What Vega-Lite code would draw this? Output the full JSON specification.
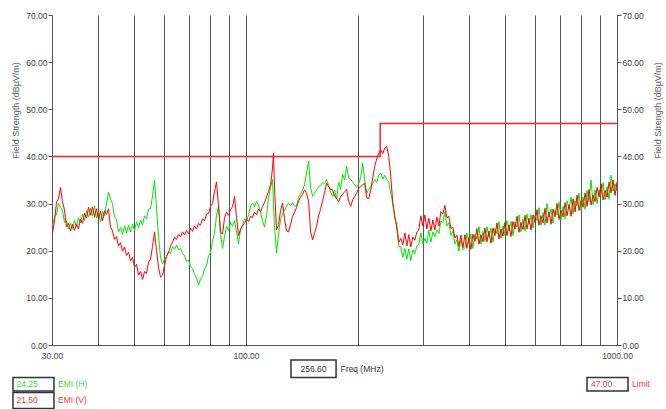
{
"$schema":"https://vega.github.io/schema/vega-lite/v6.json",
"width":565,"height":330,
"autosize":{"type":"none"},
"padding":{"left":52,"top":15,"right":49,"bottom":64},
"background":"white",
"config":{"view":{"stroke":null},"font":"Liberation Sans"},
"datasets":{
"emi":[
{"f":30.09,"h":25.2,"v":23.8},{"f":30.47,"h":27.3,"v":26.2},{"f":30.85,"h":27.6,"v":30.3},{"f":31.23,"h":30.1,"v":31.0},{"f":31.62,"h":29.2,"v":33.4},{"f":32.02,"h":28.6,"v":30.4},{"f":32.42,"h":26.0,"v":28.6},{"f":32.82,"h":26.3,"v":25.0},{"f":33.23,"h":24.6,"v":25.8},{"f":33.65,"h":25.8,"v":24.2},{"f":34.07,"h":24.7,"v":25.6},{"f":34.49,"h":26.4,"v":24.3},{"f":34.92,"h":25.1,"v":25.7},{"f":35.36,"h":27.0,"v":24.6},{"f":35.80,"h":25.9,"v":26.7},{"f":36.25,"h":27.8,"v":25.8},{"f":36.71,"h":26.4,"v":27.9},{"f":37.16,"h":28.5,"v":26.9},{"f":37.63,"h":27.1,"v":29.2},{"f":38.10,"h":29.0,"v":27.5},{"f":38.57,"h":27.4,"v":29.3},{"f":39.05,"h":29.5,"v":27.2},{"f":39.54,"h":26.9,"v":28.9},{"f":40.04,"h":28.2,"v":26.8},{"f":40.54,"h":26.2,"v":28.4},{"f":41.04,"h":28.3,"v":26.3},{"f":41.56,"h":27.4,"v":28.5},{"f":42.08,"h":30.0,"v":27.7},{"f":42.60,"h":32.4,"v":28.9},{"f":43.13,"h":31.0,"v":25.0},{"f":43.67,"h":30.0,"v":24.2},{"f":44.22,"h":27.2,"v":22.4},{"f":44.77,"h":26.6,"v":23.0},{"f":45.33,"h":24.0,"v":21.0},{"f":45.90,"h":24.9,"v":21.7},{"f":46.47,"h":23.5,"v":19.9},{"f":47.06,"h":25.3,"v":20.8},{"f":47.64,"h":23.8,"v":19.0},{"f":48.24,"h":25.4,"v":19.7},{"f":48.84,"h":24.0,"v":17.8},{"f":49.45,"h":25.6,"v":18.6},{"f":50.07,"h":24.3,"v":16.5},{"f":50.70,"h":26.1,"v":17.1},{"f":51.33,"h":24.9,"v":14.8},{"f":51.97,"h":26.5,"v":15.6},{"f":52.62,"h":25.5,"v":13.9},{"f":53.28,"h":27.4,"v":15.6},{"f":53.94,"h":26.8,"v":15.2},{"f":54.62,"h":28.8,"v":17.6},{"f":55.30,"h":29.0,"v":18.2},{"f":55.99,"h":31.6,"v":20.9},{"f":56.69,"h":35.0,"v":24.0},{"f":57.40,"h":29.0,"v":20.0},{"f":58.11,"h":23.0,"v":16.5},{"f":58.84,"h":18.5,"v":14.4},{"f":59.57,"h":17.2,"v":14.8},
{"f":60.32,"h":18.2,"v":16.9},{"f":61.07,"h":18.8,"v":18.8},{"f":61.83,"h":19.8,"v":19.6},{"f":62.60,"h":19.4,"v":21.0},{"f":63.39,"h":20.9,"v":21.8},{"f":64.18,"h":20.3,"v":22.9},{"f":64.98,"h":21.2,"v":22.4},{"f":65.79,"h":20.2,"v":23.5},{"f":66.61,"h":20.5,"v":22.9},{"f":67.44,"h":19.4,"v":24.0},{"f":68.29,"h":19.0,"v":23.3},{"f":69.14,"h":17.8,"v":24.3},{"f":70.00,"h":18.0,"v":23.6},{"f":70.88,"h":16.6,"v":24.8},{"f":71.76,"h":16.2,"v":24.1},{"f":72.66,"h":15.0,"v":25.2},{"f":73.57,"h":14.3,"v":24.6},{"f":74.49,"h":12.7,"v":25.8},{"f":75.42,"h":14.0,"v":25.4},{"f":76.36,"h":14.5,"v":26.8},{"f":77.31,"h":16.2,"v":26.3},{"f":78.28,"h":16.8,"v":27.8},{"f":79.26,"h":18.9,"v":27.9},{"f":80.25,"h":19.6,"v":29.4},{"f":81.25,"h":22.0,"v":30.0},{"f":82.27,"h":23.7,"v":32.6},{"f":83.29,"h":27.5,"v":34.6},{"f":84.33,"h":29.5,"v":29.5},{"f":85.39,"h":23.5,"v":24.0},{"f":86.45,"h":20.5,"v":23.5},{"f":87.53,"h":23.0,"v":27.0},{"f":88.63,"h":25.2,"v":28.2},{"f":89.73,"h":24.3,"v":27.5},{"f":90.85,"h":26.0,"v":28.7},{"f":91.99,"h":25.2,"v":29.3},{"f":93.14,"h":26.4,"v":31.5},{"f":94.30,"h":24.0,"v":27.0},{"f":95.48,"h":21.4,"v":23.2},{"f":96.67,"h":24.5,"v":24.6},{"f":97.88,"h":25.5,"v":25.3},{"f":99.10,"h":26.8,"v":25.8},
{"f":100.3,"h":26.2,"v":26.7},{"f":101.6,"h":27.6,"v":26.2},{"f":102.9,"h":29.5,"v":27.3},{"f":104.1,"h":30.1,"v":27.0},{"f":105.4,"h":29.3,"v":28.2},{"f":106.8,"h":30.4,"v":27.6},{"f":108.1,"h":29.7,"v":28.8},{"f":109.5,"h":28.0,"v":28.3},{"f":110.8,"h":26.4,"v":29.4},{"f":112.2,"h":25.0,"v":30.2},{"f":113.6,"h":27.5,"v":31.4},{"f":115.0,"h":31.2,"v":32.6},{"f":116.5,"h":33.5,"v":34.0},{"f":117.9,"h":35.1,"v":37.5},{"f":118.6,"h":30.0,"v":40.7},{"f":119.4,"h":25.0,"v":33.0},{"f":120.9,"h":19.5,"v":24.4},{"f":122.4,"h":23.5,"v":25.5},{"f":123.9,"h":26.6,"v":28.5},{"f":125.5,"h":27.8,"v":30.1},{"f":127.0,"h":28.5,"v":26.8},{"f":128.6,"h":29.4,"v":24.2},{"f":130.2,"h":30.1,"v":24.0},{"f":131.9,"h":29.5,"v":25.6},{"f":133.5,"h":30.2,"v":27.3},{"f":135.2,"h":29.4,"v":28.1},{"f":136.9,"h":29.6,"v":29.2},{"f":138.6,"h":31.3,"v":30.5},{"f":140.3,"h":32.0,"v":31.3},{"f":142.1,"h":32.9,"v":32.0},{"f":143.8,"h":34.0,"v":32.9},{"f":145.6,"h":36.5,"v":32.2},{"f":147.5,"h":39.0,"v":30.5},{"f":149.3,"h":33.5,"v":24.0},{"f":151.2,"h":31.5,"v":22.3},{"f":153.1,"h":32.2,"v":23.8},{"f":155.0,"h":32.9,"v":25.2},{"f":156.9,"h":33.6,"v":27.4},{"f":158.9,"h":33.8,"v":28.8},{"f":160.9,"h":34.5,"v":30.6},{"f":162.9,"h":34.2,"v":32.4},{"f":164.9,"h":35.1,"v":34.3},{"f":167.0,"h":33.8,"v":33.6},{"f":169.1,"h":32.4,"v":33.0},{"f":171.2,"h":31.5,"v":32.9},{"f":173.3,"h":32.8,"v":31.6},{"f":175.5,"h":31.0,"v":31.0},{"f":177.7,"h":34.5,"v":30.4},{"f":179.9,"h":33.0,"v":31.5},{"f":182.2,"h":36.2,"v":32.0},{"f":184.5,"h":35.0,"v":32.5},{"f":186.8,"h":37.9,"v":33.0},{"f":189.1,"h":35.5,"v":30.5},{"f":191.5,"h":35.1,"v":29.4},{"f":193.9,"h":34.6,"v":30.8},{"f":196.3,"h":34.0,"v":31.5},{"f":198.8,"h":33.4,"v":32.2},
{"f":201.2,"h":34.2,"v":33.2},{"f":203.8,"h":35.5,"v":33.6},{"f":206.3,"h":38.6,"v":34.0},{"f":208.9,"h":35.0,"v":34.3},{"f":211.5,"h":32.2,"v":31.2},{"f":214.2,"h":33.0,"v":31.0},{"f":216.9,"h":33.6,"v":32.9},{"f":219.6,"h":34.2,"v":35.5},{"f":222.3,"h":35.1,"v":37.9},{"f":225.1,"h":34.5,"v":39.5},{"f":228.0,"h":36.0,"v":40.7},{"f":230.8,"h":36.5,"v":41.4},{"f":233.7,"h":35.2,"v":40.6},{"f":236.6,"h":36.0,"v":41.8},{"f":239.6,"h":35.1,"v":42.1},{"f":242.6,"h":34.5,"v":40.0},{"f":245.6,"h":32.2,"v":35.8},{"f":248.7,"h":30.0,"v":30.1},{"f":251.8,"h":27.5,"v":27.0},{"f":255.0,"h":24.5,"v":25.4},{"f":258.2,"h":21.0,"v":21.8},{"f":261.4,"h":20.8,"v":22.6},{"f":264.7,"h":18.6,"v":21.2},{"f":268.0,"h":20.5,"v":23.8},{"f":271.3,"h":18.2,"v":21.0},{"f":274.7,"h":20.4,"v":23.4},{"f":278.2,"h":17.9,"v":20.8},{"f":281.7,"h":20.2,"v":22.9},{"f":285.2,"h":19.4,"v":22.2},{"f":288.8,"h":21.0,"v":24.0},{"f":292.4,"h":21.4,"v":24.4},{"f":296.0,"h":23.8,"v":27.4},{"f":299.7,"h":21.4,"v":25.2},
{"f":303.5,"h":22.6,"v":27.6},{"f":307.3,"h":21.6,"v":24.6},{"f":311.1,"h":24.4,"v":26.9},{"f":315.0,"h":21.8,"v":24.2},{"f":319.0,"h":24.0,"v":26.5},{"f":323.0,"h":23.0,"v":24.4},{"f":327.0,"h":24.4,"v":27.1},{"f":331.1,"h":23.6,"v":25.2},{"f":335.2,"h":26.3,"v":28.3},{"f":339.4,"h":26.0,"v":27.8},{"f":343.6,"h":28.3,"v":29.6},{"f":347.9,"h":25.2,"v":27.0},{"f":352.3,"h":26.0,"v":27.3},{"f":356.7,"h":23.2,"v":24.7},{"f":361.2,"h":24.2,"v":25.0},{"f":365.7,"h":21.4,"v":22.7},{"f":370.2,"h":22.3,"v":23.3},{"f":374.9,"h":19.9,"v":20.9},{"f":379.6,"h":22.5,"v":23.3},{"f":384.3,"h":20.2,"v":20.6},{"f":389.1,"h":20.6,"v":23.4},{"f":394.0,"h":23.7,"v":20.5},{"f":398.9,"h":21.5,"v":22.8},
{"f":403.9,"h":23.5,"v":20.3},{"f":409.0,"h":20.5,"v":23.5},{"f":414.1,"h":23.5,"v":22.0},{"f":419.3,"h":22.4,"v":24.7},{"f":424.5,"h":25.1,"v":21.4},{"f":429.8,"h":21.4,"v":23.4},{"f":435.2,"h":24.1,"v":21.9},{"f":440.6,"h":22.0,"v":24.8},{"f":446.2,"h":25.1,"v":21.9},{"f":451.7,"h":22.9,"v":24.2},{"f":457.4,"h":24.8,"v":21.6},{"f":463.1,"h":21.8,"v":24.8},{"f":468.9,"h":24.7,"v":23.2},{"f":474.8,"h":23.6,"v":25.9},{"f":480.7,"h":26.2,"v":22.5},{"f":486.7,"h":22.6,"v":24.6},{"f":492.8,"h":25.3,"v":23.1},{"f":499.0,"h":23.2,"v":26.0},
{"f":505.2,"h":26.4,"v":23.2},{"f":511.5,"h":24.2,"v":25.5},{"f":517.9,"h":26.2,"v":23.0},{"f":524.4,"h":23.2,"v":26.2},{"f":531.0,"h":26.1,"v":24.6},{"f":537.6,"h":25.0,"v":27.3},{"f":544.3,"h":27.6,"v":23.9},{"f":551.1,"h":24.0,"v":26.0},{"f":558.0,"h":26.7,"v":24.5},{"f":565.0,"h":24.1,"v":27.5},{"f":572.0,"h":27.8,"v":24.6},{"f":579.2,"h":25.6,"v":26.9},{"f":586.4,"h":27.6,"v":24.4},{"f":593.8,"h":24.8,"v":27.6},{"f":601.2,"h":27.5,"v":26.0},{"f":608.7,"h":26.4,"v":28.7},{"f":616.3,"h":29.1,"v":25.4},{"f":624.0,"h":25.4,"v":27.4},{"f":631.8,"h":28.1,"v":25.9},{"f":639.7,"h":25.4,"v":29.0},{"f":647.7,"h":30.0,"v":25.9},{"f":655.8,"h":27.1,"v":28.2},{"f":664.0,"h":28.8,"v":25.6},{"f":672.3,"h":25.8,"v":28.8},{"f":680.7,"h":28.7,"v":27.2},{"f":689.2,"h":27.6,"v":30.0},{"f":697.9,"h":30.3,"v":26.6},
{"f":706.6,"h":26.6,"v":28.6},{"f":715.4,"h":29.4,"v":27.2},{"f":724.4,"h":26.8,"v":30.2},{"f":733.4,"h":30.6,"v":27.4},{"f":742.6,"h":28.7,"v":29.8},{"f":751.9,"h":31.4,"v":27.3},{"f":761.3,"h":27.8,"v":31.0},{"f":770.8,"h":30.6,"v":28.2},{"f":780.4,"h":29.5,"v":31.8},{"f":790.2,"h":32.2,"v":28.5},{"f":800.0,"h":28.6,"v":30.6},{"f":810.0,"h":31.4,"v":29.2},{"f":820.2,"h":28.8,"v":32.2},{"f":830.4,"h":32.8,"v":29.4},{"f":840.8,"h":30.4,"v":33.0},{"f":851.3,"h":35.0,"v":29.7},{"f":862.0,"h":29.8,"v":31.8},{"f":872.7,"h":32.9,"v":30.4},{"f":883.6,"h":30.0,"v":33.4},{"f":894.7,"h":32.9,"v":31.4},
{"f":905.9,"h":31.9,"v":34.2},{"f":917.2,"h":34.5,"v":30.8},{"f":928.7,"h":30.8,"v":32.8},{"f":940.3,"h":33.6,"v":31.4},{"f":952.0,"h":30.9,"v":34.6},{"f":963.9,"h":36.0,"v":32.3},{"f":975.9,"h":32.7,"v":35.0},{"f":988.1,"h":34.2,"v":31.7},{"f":1000,"h":32.6,"v":34.6}
],
"limit":[{"f":30,"limit":40},{"f":230,"limit":40},{"f":230,"limit":47},{"f":1000,"limit":47}]
},
"resolve":{"axis":{"x":"independent","y":"independent"}},
"layer":[
{"data":{"name":"emi"},
 "mark":{"type":"line","stroke":"#00e600","strokeWidth":1},
 "encoding":{
  "x":{"field":"f","type":"quantitative","scale":{"type":"log","domain":[30,1000],"nice":false},
   "axis":{"values":[30,40,50,60,70,80,90,100,200,300,400,500,600,700,800,900,1000],"grid":true,"gridColor":"#555555","gridWidth":1,"gridOpacity":1,"ticks":false,"domainColor":"#555555",
    "labelExpr":"datum.value == 30 || datum.value == 100 || datum.value == 1000 ? format(datum.value, '.2f') : ''",
    "labelFontSize":8.5,"labelColor":"#444444","labelPadding":6,"labelFlush":false,"labelOverlap":false,
    "title":"Freq (MHz)","titleX":288,"titleY":23,"titleAlign":"left","titleBaseline":"middle","titleFontSize":8.5,"titleFontWeight":"normal","titleColor":"#333333"}},
  "y":{"field":"h","type":"quantitative","scale":{"domain":[0,70],"nice":false,"zero":false},
   "axis":{"orient":"left","values":[0,10,20,30,40,50,60,70],"format":".2f","grid":false,"tickSize":4,"tickColor":"#555555","domainColor":"#555555","labelFontSize":8.5,"labelColor":"#444444","labelPadding":1,"labelFlush":false,
    "title":"Field Strength (dBµV/m)","titleFontSize":9,"titleFontWeight":"normal","titleColor":"#666666","titleX":-37,"titleY":95,"titleAngle":270,"titleAlign":"center","titleBaseline":"middle"}}
 }},
{"data":{"name":"emi"},
 "mark":{"type":"line","stroke":"#ff0000","strokeWidth":1},
 "encoding":{
  "x":{"field":"f","type":"quantitative","axis":null},
  "y":{"field":"v","type":"quantitative",
   "axis":{"orient":"right","values":[0,10,20,30,40,50,60,70],"format":".2f","grid":false,"tickSize":4,"tickColor":"#555555","domainColor":"#555555","labelFontSize":8.5,"labelColor":"#444444","labelPadding":1,"labelFlush":false,
    "title":"Field Strength (dBµV/m)","titleFontSize":9,"titleFontWeight":"normal","titleColor":"#666666","titleX":40,"titleY":95,"titleAngle":270,"titleAlign":"center","titleBaseline":"middle"}}
 }},
{"data":{"name":"limit"},
 "mark":{"type":"line","stroke":"#ff1f1f","strokeWidth":1.5},
 "encoding":{
  "x":{"field":"f","type":"quantitative","axis":null},
  "y":{"field":"limit","type":"quantitative","axis":null},
  "order":{"value":null}
 }},
{"data":{"values":[{"item":"Freq (MHz)","reading":256.6}]},
 "layer":[
  {"mark":{"type":"rect","fill":"white","stroke":"#333333","strokeWidth":1.5},
   "encoding":{"x":{"datum":132.2,"type":"quantitative","axis":null},"x2":{"datum":174.9},"y":{"datum":-3.2,"type":"quantitative","axis":null},"y2":{"datum":-6.9}}},
  {"mark":{"type":"text","align":"center","baseline":"middle","fontSize":8.5,"color":"#333333"},
   "encoding":{"x":{"datum":152.1,"type":"quantitative","axis":null},"y":{"datum":-5.05,"type":"quantitative","axis":null},"text":{"field":"reading","type":"quantitative","format":".2f"}}}
 ]},
{"data":{"values":[{"item":"EMI (H)","reading":24.25}]},
 "layer":[
  {"mark":{"type":"rect","fill":"white","stroke":"#333333","strokeWidth":1.5},
   "encoding":{"x":{"datum":23.55,"type":"quantitative","axis":null},"x2":{"datum":30.37},"y":{"datum":-6.89,"type":"quantitative","axis":null},"y2":{"datum":-9.76}}},
  {"mark":{"type":"text","align":"left","baseline":"middle","fontSize":8.5,"color":"#33dd33"},
   "encoding":{"x":{"datum":24.07,"type":"quantitative","axis":null},"y":{"datum":-8.34,"type":"quantitative","axis":null},"text":{"field":"reading","type":"quantitative","format":".2f"}}},
  {"mark":{"type":"text","align":"left","baseline":"middle","fontSize":8.5,"color":"#33dd33"},
   "encoding":{"x":{"datum":31.14,"type":"quantitative","axis":null},"y":{"datum":-8.34,"type":"quantitative","axis":null},"text":{"field":"item","type":"nominal"}}}
 ]},
{"data":{"values":[{"item":"EMI (V)","reading":21.5}]},
 "layer":[
  {"mark":{"type":"rect","fill":"white","stroke":"#333333","strokeWidth":1.5},
   "encoding":{"x":{"datum":23.55,"type":"quantitative","axis":null},"x2":{"datum":30.37},"y":{"datum":-10.08,"type":"quantitative","axis":null},"y2":{"datum":-13.47}}},
  {"mark":{"type":"text","align":"left","baseline":"middle","fontSize":8.5,"color":"#ff3333"},
   "encoding":{"x":{"datum":24.07,"type":"quantitative","axis":null},"y":{"datum":-11.77,"type":"quantitative","axis":null},"text":{"field":"reading","type":"quantitative","format":".2f"}}},
  {"mark":{"type":"text","align":"left","baseline":"middle","fontSize":8.5,"color":"#ff3333"},
   "encoding":{"x":{"datum":31.14,"type":"quantitative","axis":null},"y":{"datum":-11.77,"type":"quantitative","axis":null},"text":{"field":"item","type":"nominal"}}}
 ]},
{"data":{"values":[{"item":"Limit","reading":47}]},
 "layer":[
  {"mark":{"type":"rect","fill":"white","stroke":"#333333","strokeWidth":1.5},
   "encoding":{"x":{"datum":830.1,"type":"quantitative","axis":null},"x2":{"datum":1070.7},"y":{"datum":-6.89,"type":"quantitative","axis":null},"y2":{"datum":-9.76}}},
  {"mark":{"type":"text","align":"left","baseline":"middle","fontSize":8.5,"color":"#ff3333"},
   "encoding":{"x":{"datum":851.1,"type":"quantitative","axis":null},"y":{"datum":-8.34,"type":"quantitative","axis":null},"text":{"field":"reading","type":"quantitative","format":".2f"}}},
  {"mark":{"type":"text","align":"left","baseline":"middle","fontSize":8.5,"color":"#ff3333"},
   "encoding":{"x":{"datum":1097.7,"type":"quantitative","axis":null},"y":{"datum":-8.34,"type":"quantitative","axis":null},"text":{"field":"item","type":"nominal"}}}
 ]}
]
}
